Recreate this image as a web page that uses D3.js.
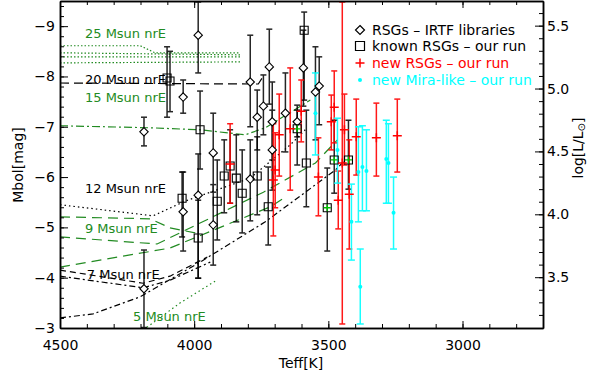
<!DOCTYPE html>
<html><head><meta charset="utf-8">
<script src="https://cdn.jsdelivr.net/npm/d3@7"></script>
<style>
html,body{margin:0;padding:0;background:#fff;}
svg{display:block;font-family:'DejaVu Sans',sans-serif;}
</style></head>
<body>
<svg id="chart" width="589" height="379"></svg>
<script>
// ---------------- DATA ----------------
// RSGs - IRTF libraries (diamonds)
const irtfTeff   = [4187,4187,4041,3985,4041,3985,3929,3929,3791,3791,3765,3742,3720,3709,3709,3660,3616,3593,3548,3534];
const irtfMbol   = [-6.90,-3.78,-7.59,-8.82,-5.31,-5.64,-6.48,-5.05,-7.89,-5.96,-7.19,-7.41,-8.19,-7.10,-6.54,-7.27,-7.10,-8.17,-7.69,-7.81];
const irtfBright = [-7.19,-4.55,-7.93,-9.48,-6.10,-6.46,-7.27,-5.85,-8.82,-6.74,-7.73,-8.03,-8.94,-7.89,-7.33,-8.07,-7.33,-8.92,-8.59,-8.39];
const irtfFaint  = [-6.62,-3.01,-7.27,-8.07,-4.53,-3.99,-5.70,-4.25,-7.00,-5.13,-6.54,-6.84,-7.45,-6.34,-5.74,-6.50,-6.80,-7.41,-6.74,-7.04];

// known RSGs - our run (squares)
const knownTeff   = [4101,4090,3978,4045,3985,3914,3888,3866,3843,3821,3765,3724,3616,3590,3582,3504,3478,3425];
const knownMbol   = [-7.97,-7.91,-6.94,-5.58,-4.79,-5.52,-6.02,-6.22,-5.98,-5.68,-6.02,-5.41,-6.96,-8.92,-6.28,-5.39,-6.34,-6.34];
const knownBright = [-8.59,-8.50,-7.71,-6.10,-5.54,-6.34,-6.74,-6.94,-6.84,-6.54,-6.80,-6.20,-7.43,-9.28,-7.33,-6.18,-7.13,-7.13];
const knownFaint  = [-7.19,-7.30,-6.16,-4.81,-3.99,-4.75,-5.29,-5.48,-5.11,-4.89,-5.25,-4.65,-6.24,-7.53,-5.41,-4.53,-5.68,-5.76];
const knownGreen  = [0,0,0,0,0,0,0,0,0,0,0,0,1,0,0,1,1,1];

// new RSGs - our run (red crosses)
const newTeff   = [3866,3705,3683,3698,3642,3601,3537,3478,3489,3463,3448,3440,3422,3396,3321,3243];
const newMbol   = [-6.26,-5.94,-6.84,-6.14,-6.96,-7.31,-6.00,-7.39,-7.10,-5.54,-6.28,-6.94,-5.66,-6.80,-6.78,-6.82];
const newBright = [-7.06,-7.06,-7.65,-6.88,-8.17,-7.93,-6.78,-8.11,-7.63,-6.12,-9.48,-7.65,-6.74,-7.55,-7.47,-7.55];
const newFaint  = [-5.48,-4.83,-6.02,-5.39,-5.74,-6.70,-5.23,-6.68,-6.54,-4.97,-3.08,-6.24,-4.57,-6.04,-6.02,-6.10];

// new Mira-like - our run (cyan dots)
const miraTeff   = [3548,3414,3388,3373,3358,3381,3284,3276,3257,3466];
const miraMbol   = [-7.27,-5.11,-6.10,-6.20,-6.12,-3.82,-6.36,-6.28,-5.29,-6.54];
const miraBright = [-8.07,-5.86,-7.00,-7.02,-6.94,-4.57,-7.13,-7.06,-6.00,-7.17];
const miraFaint  = [-6.44,-4.35,-5.11,-5.33,-5.33,-3.08,-5.48,-5.48,-4.57,-5.88];

// evolutionary tracks [Teff, Mbol]
const track25a = [[4500,-8.61],[4201,-8.61],[4146,-8.47],[3828,-8.47]];
const track25b = [[4500,-8.47],[3828,-8.43]];
const track25c = [[4500,-8.39],[3828,-8.39]];
const track25d = [[4500,-8.27],[3828,-8.29]];
const track20  = [[4500,-7.87],[3791,-7.85],[3761,-7.85],[3742,-8.01]];
const track15  = [[4500,-7.02],[4164,-6.98],[3978,-6.94],[3810,-6.84],[3735,-6.98],[3567,-7.53]];
const track12  = [[4500,-5.45],[4153,-5.23],[4034,-5.52],[3940,-5.70],[3791,-5.98],[3642,-6.64],[3586,-6.94]];
const track9a  = [[4500,-5.21],[4164,-5.17],[4090,-4.99],[3996,-4.89]];
const track9b  = [[4500,-4.81],[4138,-4.67],[3742,-5.70],[3548,-6.28],[3466,-6.74]];
const track9c  = [[4500,-4.21],[4090,-4.59],[3716,-5.41],[3660,-5.60]];
const track7a  = [[4500,-4.15],[4190,-3.89],[4090,-4.03],[3951,-4.41]];
const track7b  = [[4500,-4.03],[4190,-3.80],[4090,-3.95],[3940,-4.31]];
const track7c  = [[4500,-3.20],[4377,-3.28],[4201,-3.62],[3978,-4.31],[3735,-5.11],[3474,-6.14],[3437,-6.34]];
const track5   = [[4190,-2.96],[4052,-3.50],[3922,-3.93]];

const trackLabels = ["25 Msun nrE","20 Msun nrE","15 Msun nrE","12 Msun nrE","9 Msun nrE","7 Msun nrE","5 Msun nrE"];
const trackLabelTeff = [4407,4407,4407,4407,4407,4400,4228];
const trackLabelMbol = [-8.77,-7.86,-7.49,-5.68,-4.89,-3.97,-3.14];

const legendLabels = ["RSGs \u2013 IRTF libraries","known RSGs \u2013 our run","new RSGs \u2013 our run","new Mira-like \u2013 our run"];

const xMajor = [4500,4000,3500,3000];
const yMajor = [-9,-8,-7,-6,-5,-4,-3];
const lMajor = [3.5,4.0,4.5,5.0,5.5];
const MSUN_BOL = 4.74;

// ---------------- SCALES ----------------
const L = 60, R = 543, T = 1, B = 328;
const x = d3.scaleLinear().domain([4500, 2700]).range([L, R]);
const y = d3.scaleLinear().domain([-3, -9.5]).range([B, T]);
const yL = d3.scaleLinear().domain([(MSUN_BOL+3)/2.5, (MSUN_BOL+9.5)/2.5]).range([B, T]);

const GREEN = "#228B22", RED = "#ff0000", CYAN = "#00ffff";
const svg = d3.select("#chart");

svg.append("defs").append("clipPath").attr("id","clip")
  .append("rect").attr("x",L).attr("y",T).attr("width",R-L).attr("height",B-T);

const plot = svg.append("g").attr("clip-path","url(#clip)");

// ---------------- TRACKS ----------------
const line = d3.line().x(d=>x(d[0])).y(d=>y(d[1]));
const tracks = [
  [track25a, GREEN, "1.5,2"], [track25b, GREEN, "1.5,2"], [track25c, GREEN, "1.5,2"], [track25d, GREEN, "1.5,2"],
  [track20, "#000", "9,5"],
  [track15, GREEN, "8,3,2,3"],
  [track12, "#000", "1.5,3"],
  [track9a, GREEN, "10,6"], [track9b, GREEN, "10,6"], [track9c, GREEN, "10,6"],
  [track7a, "#000", "6,4"], [track7b, "#000", "6,3,2,3"], [track7c, "#000", "6,3,2,3"],
  [track5, GREEN, "1.5,3"]
];
tracks.forEach(([d,c,dash])=>{
  plot.append("path").datum(d).attr("d",line).attr("fill","none")
    .attr("stroke",c).attr("stroke-width",1.2).attr("stroke-dasharray",dash);
});

// track labels
const labColors = [GREEN,"#000",GREEN,"#000",GREEN,"#000",GREEN];
svg.append("g").selectAll("text").data(trackLabels).join("text")
  .attr("x",(d,i)=>x(trackLabelTeff[i])).attr("y",(d,i)=>y(trackLabelMbol[i]))
  .attr("font-size",13).attr("fill",(d,i)=>labColors[i]).text(d=>d);

// ---------------- ERROR BARS ----------------
function errBars(teff, bright, faint, color, cap, op){
  const g = plot.append("g").attr("stroke",color).attr("stroke-width",1.5).attr("opacity",op);
  teff.forEach((t,i)=>{
    const xx = x(t);
    g.append("line").attr("x1",xx).attr("x2",xx).attr("y1",y(bright[i])).attr("y2",y(faint[i]));
    g.append("line").attr("x1",xx-cap).attr("x2",xx+cap).attr("y1",y(bright[i])).attr("y2",y(bright[i]));
    g.append("line").attr("x1",xx-cap).attr("x2",xx+cap).attr("y1",y(faint[i])).attr("y2",y(faint[i]));
  });
}
errBars(irtfTeff, irtfBright, irtfFaint, "#000", 3, 0.85);
errBars(knownTeff, knownBright, knownFaint, "#000", 3, 0.85);
errBars(newTeff, newBright, newFaint, RED, 3, 0.9);
errBars(miraTeff, miraBright, miraFaint, CYAN, 3.5, 0.9);

// ---------------- SYMBOLS ----------------
const diamond = (cx,cy,s)=>`M${cx},${cy-s}L${cx+s},${cy}L${cx},${cy+s}L${cx-s},${cy}Z`;
const square = (cx,cy,s)=>`M${cx-s},${cy-s}h${2*s}v${2*s}h${-2*s}Z`;
const plus = (cx,cy,s)=>`M${cx-s},${cy}h${2*s}M${cx},${cy-s}v${2*s}`;

plot.append("g").selectAll("path").data(irtfTeff).join("path")
  .attr("d",(t,i)=>diamond(x(t),y(irtfMbol[i]),4.2))
  .attr("fill","#fff").attr("stroke","#000").attr("stroke-width",1.1);

plot.append("g").selectAll("path").data(knownTeff).join("path")
  .attr("d",(t,i)=>square(x(t),y(knownMbol[i]),4))
  .attr("fill","none").attr("stroke","#000").attr("stroke-width",1.1);
plot.append("g").selectAll("path").data(knownTeff.filter((t,i)=>knownGreen[i]))
  .join("path")
  .attr("d",(t)=>{const i = knownTeff.indexOf(t); return plus(x(t),y(knownMbol[i]),3.5);})
  .attr("stroke","#00c000").attr("stroke-width",1.3);

plot.append("g").selectAll("path").data(newTeff).join("path")
  .attr("d",(t,i)=>plus(x(t),y(newMbol[i]),4.5))
  .attr("stroke",RED).attr("stroke-width",1.5);

plot.append("g").selectAll("circle").data(miraTeff).join("circle")
  .attr("cx",t=>x(t)).attr("cy",(t,i)=>y(miraMbol[i])).attr("r",2).attr("fill",CYAN);

// ---------------- AXES ----------------
const axG = svg.append("g").attr("font-size",14);
function styleAxis(g){
  g.selectAll(".domain").attr("stroke","#000").attr("stroke-width",1.5);
  g.selectAll(".tick line").attr("stroke","#000").attr("stroke-width",1);
  g.selectAll("text").attr("fill","#000").attr("font-family","'DejaVu Sans',sans-serif").attr("font-size",14);
}
// bottom
axG.append("g").attr("transform",`translate(0,${B})`)
  .call(d3.axisBottom(x).tickValues(d3.range(2800,4501,100)).tickSize(-4).tickSizeOuter(0).tickFormat(""))
  .call(styleAxis);
axG.append("g").attr("transform",`translate(0,${B})`)
  .call(d3.axisBottom(x).tickValues(xMajor).tickSize(-7).tickSizeOuter(0).tickPadding(12).tickFormat(d3.format("d")))
  .call(styleAxis);
// top
axG.append("g").attr("transform",`translate(0,${T})`)
  .call(d3.axisTop(x).tickValues(d3.range(2800,4501,100)).tickSize(-4).tickSizeOuter(0).tickFormat(""))
  .call(styleAxis);
axG.append("g").attr("transform",`translate(0,${T})`)
  .call(d3.axisTop(x).tickValues(xMajor).tickSize(-7).tickSizeOuter(0).tickFormat(""))
  .call(styleAxis);
// left
axG.append("g").attr("transform",`translate(${L},0)`)
  .call(d3.axisLeft(y).tickValues(d3.range(-9.4,-2.99,0.2)).tickSize(-4).tickSizeOuter(0).tickFormat(""))
  .call(styleAxis);
axG.append("g").attr("transform",`translate(${L},0)`)
  .call(d3.axisLeft(y).tickValues(yMajor).tickSize(-8).tickSizeOuter(0).tickPadding(5).tickFormat(d3.format("d")))
  .call(styleAxis);
// right (log L)
axG.append("g").attr("transform",`translate(${R},0)`)
  .call(d3.axisRight(yL).tickValues(d3.range(3.2,5.65,0.1)).tickSize(-4).tickSizeOuter(0).tickFormat(""))
  .call(styleAxis);
axG.append("g").attr("transform",`translate(${R},0)`)
  .call(d3.axisRight(yL).tickValues(lMajor).tickSize(-8).tickSizeOuter(0).tickPadding(4).tickFormat(d3.format(".1f")))
  .call(styleAxis);

// axis titles
svg.append("text").attr("x",301).attr("y",368).attr("text-anchor","middle").attr("font-size",14).text("Teff[K]");
svg.append("text").attr("transform","translate(23,165) rotate(-90)").attr("text-anchor","middle").attr("font-size",14).text("Mbol[mag]");
const rt = svg.append("text").attr("transform","translate(583,148) rotate(-90)").attr("text-anchor","middle").attr("font-size",14);
rt.append("tspan").text("log[L/L");
rt.append("tspan").attr("font-size",10).attr("dy",2).text("\u2299");
rt.append("tspan").attr("dy",-2).text("]");

// ---------------- LEGEND ----------------
const lg = svg.append("g");
const legY = [30,46,63,80];
const legColors = ["#000","#000",RED,CYAN];
lg.append("path").attr("d",diamond(360,legY[0],4.5)).attr("fill","#fff").attr("stroke","#000").attr("stroke-width",1.2);
lg.append("path").attr("d",square(360,legY[1],4.5)).attr("fill","none").attr("stroke","#000").attr("stroke-width",1.2);
lg.append("path").attr("d",plus(360,legY[2],4.5)).attr("stroke",RED).attr("stroke-width",1.5);
lg.append("circle").attr("cx",360).attr("cy",legY[3]).attr("r",2).attr("fill",CYAN);
lg.selectAll("text").data(legendLabels).join("text")
  .attr("x",372).attr("y",(d,i)=>legY[i]+5).attr("font-size",14)
  .attr("fill",(d,i)=>legColors[i]).text(d=>d);
</script>
</body></html>
